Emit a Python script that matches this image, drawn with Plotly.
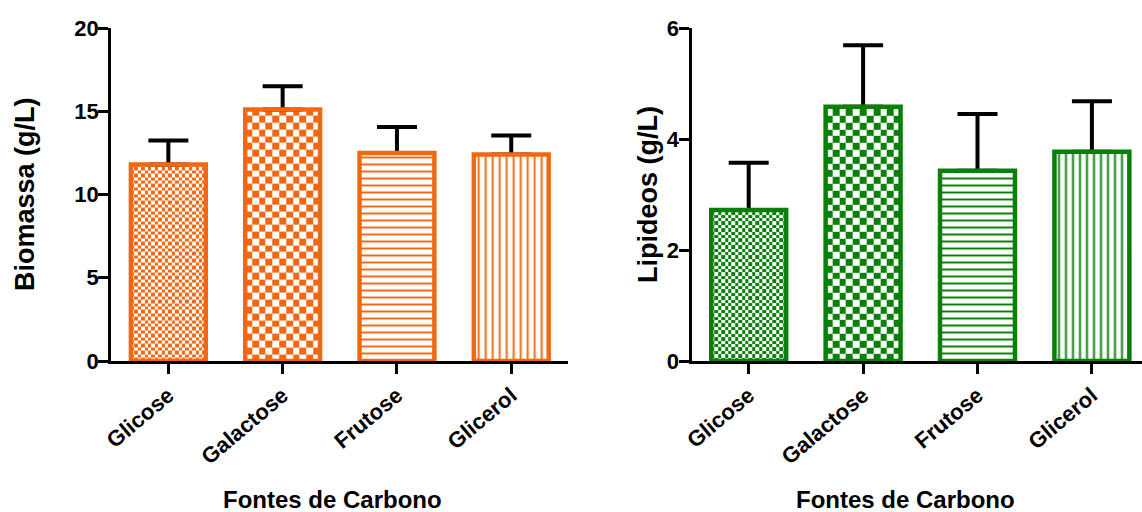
import numpy as np
import plotly.graph_objects as go

# ---- data ----
fontes = ["Glicose", "Galactose", "Frutose", "Glicerol"]
biomassa = [11.8, 15.1, 12.5, 12.4]          # g/L
biomassa_dp = [1.45, 1.40, 1.55, 1.15]       # upper error (g/L)
lipideos = [2.72, 4.58, 3.43, 3.77]          # g/L
lipideos_dp = [0.85, 1.11, 1.02, 0.91]       # upper error (g/L)
biomassa_ticks = [0, 5, 10, 15, 20]
lipideos_ticks = [0, 2, 4, 6]

# fill style of each carbon source: fine checker, coarse checker, horizontal, vertical
fill_styles = ["fine", "coarse", "-", "|"]

# ---- styling ----
W, H = 1142, 512
ORANGE = "#F26812"
GREEN = "#0A800A"
FONT = "Liberation Sans, Arial, sans-serif"
BAR_W = 0.655
CAT_PX = 114.4                     # pixels per category step
Y0_PX, YTOP_PX = 361, 28           # vertical extent of the plotting area (px from top)
PLOT_H = Y0_PX - YTOP_PX
CHECK_COLS = {"fine": 22, "coarse": 11}

x_pos = np.arange(len(fontes))
ydom = [(H - Y0_PX) / H, (H - YTOP_PX) / H]
left_dom = [111.2 / W, 568.4 / W]
right_dom = [691.5 / W, 1.0]
right_range = [-0.5, -0.5 + (W - 691.5) / CAT_PX]


def checker_traces(values, ymax, color, xa, ya):
    traces = []
    for xc, v, style in zip(x_pos, values, fill_styles):
        if style not in CHECK_COLS:
            continue
        ncol = CHECK_COLS[style]
        xe = np.linspace(xc - BAR_W / 2, xc + BAR_W / 2, ncol + 1)
        cell_px = BAR_W * CAT_PX / ncol
        dy = cell_px * ymax / PLOT_H
        ye = np.append(np.arange(0, v, dy), v)
        ii, jj = np.meshgrid(np.arange(len(ye) - 1), np.arange(ncol), indexing="ij")
        z = ((ii + jj) % 2).astype(float)
        traces.append(go.Heatmap(
            x=xe, y=ye, z=z, zmin=0, zmax=1, zsmooth=False,
            colorscale=[[0, "white"], [1, color]], showscale=False,
            hoverinfo="skip", xaxis=xa, yaxis=ya))
    return traces


def bar_traces(values, errs, color, xa, ya):
    shapes = [s if s in ("-", "|") else "" for s in fill_styles]
    # error bars sit on an invisible bar underneath, so the lower cap hides under the outline
    err = go.Bar(
        x=x_pos, y=values, width=BAR_W, xaxis=xa, yaxis=ya,
        marker=dict(color="rgba(0,0,0,0)", line=dict(width=0)),
        error_y=dict(type="data", symmetric=False, array=errs,
                     arrayminus=[0] * len(errs), color="black",
                     thickness=4, width=20),
        hoverinfo="skip", showlegend=False)
    bars = go.Bar(
        x=x_pos, y=values, width=BAR_W, xaxis=xa, yaxis=ya,
        marker=dict(color="rgba(0,0,0,0)", line=dict(color=color, width=4.5),
                    pattern=dict(shape=shapes, fgcolor=color, bgcolor="white",
                                 fgopacity=1, size=7, solidity=0.28,
                                 fillmode="replace")),
        showlegend=False)
    return [err, bars]


fig = go.Figure()
for t in checker_traces(biomassa, biomassa_ticks[-1], ORANGE, "x", "y"):
    fig.add_trace(t)
for t in checker_traces(lipideos, lipideos_ticks[-1], GREEN, "x2", "y2"):
    fig.add_trace(t)
for t in bar_traces(biomassa, biomassa_dp, ORANGE, "x", "y"):
    fig.add_trace(t)
for t in bar_traces(lipideos, lipideos_dp, GREEN, "x2", "y2"):
    fig.add_trace(t)

axis_common = dict(showline=True, linewidth=3, linecolor="black", ticks="outside",
                   ticklen=10, tickwidth=3, tickcolor="black", showgrid=False,
                   zeroline=False, fixedrange=True, automargin=False,
                   tickfont=dict(family=FONT, size=22, color="black", weight="bold"))
xcommon = dict(axis_common, tickvals=list(x_pos), ticktext=fontes, tickangle=-40)
ycommon = dict(axis_common, ticklabelstandoff=-5)

fig.update_layout(
    width=W, height=H, autosize=False,
    margin=dict(l=0, r=0, t=0, b=0, pad=0, autoexpand=False),
    paper_bgcolor="white", plot_bgcolor="white", barmode="overlay",
    showlegend=False,
    font=dict(family=FONT, color="black", weight="bold"),
    xaxis=dict(xcommon, domain=left_dom, range=[-0.5, 3.5], anchor="y"),
    yaxis=dict(ycommon, domain=ydom, range=[0, biomassa_ticks[-1]],
               tickvals=biomassa_ticks, anchor="x"),
    xaxis2=dict(xcommon, domain=right_dom, range=right_range, anchor="y2"),
    yaxis2=dict(ycommon, domain=ydom, range=[0, lipideos_ticks[-1]],
                tickvals=lipideos_ticks, anchor="x2"),
)

ymid = (H - (Y0_PX + YTOP_PX) / 2) / H
title_font_y = dict(family=FONT, size=27, color="black", weight="bold")
title_font_x = dict(family=FONT, size=24, color="black", weight="bold")
annots = [
    dict(text="Biomassa (g/L)", x=24.5 / W, y=ymid, textangle=-90, font=title_font_y),
    dict(text="Lipideos (g/L)", x=647.5 / W, y=ymid, textangle=-90, font=title_font_y),
    dict(text="Fontes de Carbono", x=332 / W, y=(H - 499) / H, font=title_font_x),
    dict(text="Fontes de Carbono", x=905 / W, y=(H - 499) / H, font=title_font_x),
]
for a in annots:
    fig.add_annotation(xref="paper", yref="paper", xanchor="center", yanchor="middle",
                       showarrow=False, **a)

fig.write_html("out.html", config={"displayModeBar": False})
